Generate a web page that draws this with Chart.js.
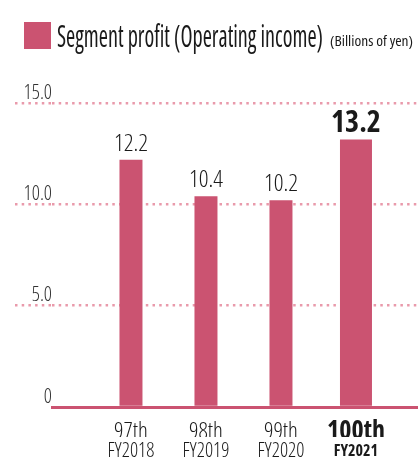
<!DOCTYPE html>
<html>
<head>
<meta charset="utf-8">
<script src="https://cdn.jsdelivr.net/npm/chart.js@4"></script>
<style>
  body { margin: 0; background: #fff; }
  #wrap { width: 418px; height: 459px; }
</style>
</head>
<body>
<div id="wrap"><canvas id="chart"></canvas></div>
<script>
const periods = ['97th', '98th', '99th', '100th'];
const fiscalYears = ['FY2018', 'FY2019', 'FY2020', 'FY2021'];
const profit = [12.2, 10.4, 10.2, 13.2];
const yTickLabels = ['0', '5.0', '10.0', '15.0'];
const current = 3; // highlighted period

const barColor = '#cb5371';
const dotColor = '#e99aab';
const family = '"Open Sans", "Noto Sans", sans-serif';
const dots = [2.5, 4.2];

function pts(from, to) {
    return profit.slice(from, to).map((v, i) => ({ x: from + i, y: v }));
}

// legend box + title, text squeezed to the width of the original condensed face
const headerPlugin = {
    id: 'header',
    afterDraw(chart) {
        const c = chart.ctx;
        c.save();
        c.fillStyle = barColor;
        c.fillRect(24, 22, 27, 27);
        c.fillStyle = '#1a1a1a';
        c.textBaseline = 'alphabetic';
        c.font = 'normal 400 condensed 30px ' + family;
        const main = 'Segment profit (Operating income)';
        const w = c.measureText(main).width;
        c.translate(57, 47);
        c.scale(266 / w, 1);
        c.fillText(main, 0, 0);
        c.restore();
        c.save();
        c.fillStyle = '#1a1a1a';
        c.font = 'normal 400 condensed 15px ' + family;
        const unit = '(Billions of yen)';
        const w2 = c.measureText(unit).width;
        c.translate(330, 46);
        c.scale(83 / w2, 1);
        c.fillText(unit, 0, 0);
        c.restore();
    }
};

const valueLabels = {
    id: 'valueLabels',
    afterDatasetsDraw(chart) {
        const c = chart.ctx;
        c.save();
        c.textAlign = 'center';
        c.textBaseline = 'alphabetic';
        c.fillStyle = '#1a1a1a';
        chart.data.datasets.forEach((ds, di) => {
            chart.getDatasetMeta(di).data.forEach((bar, i) => {
                const raw = ds.data[i];
                const big = raw.x === current;
                c.font = big ? 'normal 700 condensed 30px ' + family : 'normal 300 condensed 24px ' + family;
                c.fillText(raw.y.toFixed(1), bar.x, bar.y - (big ? 7 : 9));
            });
        });
        c.restore();
    }
};

const xRange = { min: -1.053, max: 3.827 };

new Chart(document.getElementById('chart'), {
    type: 'bar',
    data: {
        datasets: [{
            label: 'Segment profit',
            data: pts(0, current),
            backgroundColor: barColor,
            maxBarThickness: 23
        }, {
            label: 'Segment profit (current)',
            data: pts(current, current + 1),
            backgroundColor: barColor,
            maxBarThickness: 32
        }]
    },
    options: {
        responsive: true,
        maintainAspectRatio: false,
        animation: false,
        grouped: false,
        layout: { padding: { top: 103, left: 15, right: 0, bottom: 0 } },
        plugins: { legend: { display: false }, tooltip: { enabled: false } },
        scales: {
            x: {
                type: 'linear',
                position: 'bottom',
                weight: 0,
                offset: false,
                bounds: 'data',
                min: xRange.min,
                max: xRange.max,
                afterBuildTicks: s => { s.ticks = periods.map((p, i) => ({ value: i })); },
                afterFit: s => { s.height = 30; },
                grid: { display: false, drawTicks: false },
                border: { display: true, color: barColor, width: 3 },
                ticks: {
                    autoSkip: false,
                    maxRotation: 0,
                    padding: 15,
                    color: '#1a1a1a',
                    callback: (v, i) => periods[i],
                    font: ctx => ctx.index === current
                        ? { family, size: 26, weight: '700 condensed', lineHeight: '20px' }
                        : { family, size: 23, weight: '300 condensed', lineHeight: '20px' }
                }
            },
            x2: {
                type: 'linear',
                position: 'bottom',
                weight: 1,
                offset: false,
                bounds: 'data',
                min: xRange.min,
                max: xRange.max,
                afterBuildTicks: s => { s.ticks = fiscalYears.map((p, i) => ({ value: i })); },
                afterFit: s => { s.height = 22; },
                grid: { display: false, drawTicks: false },
                border: { display: false },
                ticks: {
                    autoSkip: false,
                    maxRotation: 0,
                    padding: 6,
                    color: '#1a1a1a',
                    callback: (v, i) => fiscalYears[i],
                    font: ctx => ctx.index === current
                        ? { family, size: 16, weight: '700 condensed', lineHeight: '16px' }
                        : { family, size: 20, weight: '300 condensed', lineHeight: '16px' }
                }
            },
            y: {
                min: 0,
                max: 15,
                afterBuildTicks: s => { s.ticks = yTickLabels.map((t, i) => ({ value: i * 5 })); },
                afterFit: s => { s.width = 37; },
                grid: {
                    drawTicks: true,
                    tickLength: 37,
                    lineWidth: 2.5,
                    tickWidth: 2.5,
                    tickBorderDash: dots,
                    color: ctx => ctx.tick && ctx.tick.value === 0 ? 'rgba(0,0,0,0)' : dotColor,
                    tickColor: ctx => ctx.tick && ctx.tick.value === 0 ? 'rgba(0,0,0,0)' : dotColor
                },
                border: { display: false, dash: dots },
                ticks: {
                    padding: -37,
                    labelOffset: -10,
                    color: '#333',
                    font: { family, size: 20, weight: '300 condensed' },
                    callback: (v, i) => yTickLabels[i]
                }
            }
        }
    },
    plugins: [headerPlugin, valueLabels]
});
</script>
</body>
</html>
